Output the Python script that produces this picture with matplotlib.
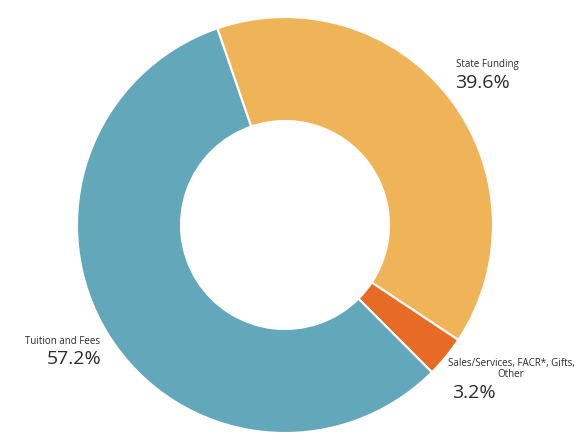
import matplotlib.pyplot as plt

# Revenue sources (share of total, %)
labels = ["State Funding", "Sales/Services, FACR*, Gifts,\nOther", "Tuition and Fees"]
shares = [39.6, 3.2, 57.2]
pct_text = ["39.6%", "3.2%", "57.2%"]
colors = ["#F0B458", "#E76B24", "#62A8BA"]

W, H = 574, 444
fig = plt.figure(figsize=(W / 100, H / 100), dpi=100)

# donut geometry in pixels
cx, cy, r = 285, 225, 208
ax = fig.add_axes([(cx - r) / W, (H - cy - r) / H, 2 * r / W, 2 * r / H])
ax.pie(shares, colors=colors, startangle=109, counterclock=False, radius=1,
       wedgeprops=dict(width=0.5, edgecolor="white", linewidth=1.5))
ax.set_xlim(-1, 1)
ax.set_ylim(-1, 1)
ax.set_aspect("equal")
ax.axis("off")

txt = "#2b2b2b"
font = "Open Sans"

def px(x, y):
    return x / W, 1 - y / H

# State Funding
fig.text(*px(456, 64), labels[0], fontsize=7, color=txt, family=font, ha="left", va="center")
fig.text(*px(455, 83), pct_text[0], fontsize=14, color=txt, family=font, ha="left", va="center")

# Sales/Services
fig.text(*px(511, 369), labels[1], fontsize=7, color=txt, family=font, ha="center", va="center",
         multialignment="center", linespacing=1.0)
fig.text(*px(452, 393), pct_text[1], fontsize=14, color=txt, family=font, ha="left", va="center")

# Tuition and Fees
fig.text(*px(100, 341), labels[2], fontsize=7, color=txt, family=font, ha="right", va="center")
fig.text(*px(101, 359), pct_text[2], fontsize=14, color=txt, family=font, ha="right", va="center")

fig.savefig("out.png", dpi=100, facecolor="white")
